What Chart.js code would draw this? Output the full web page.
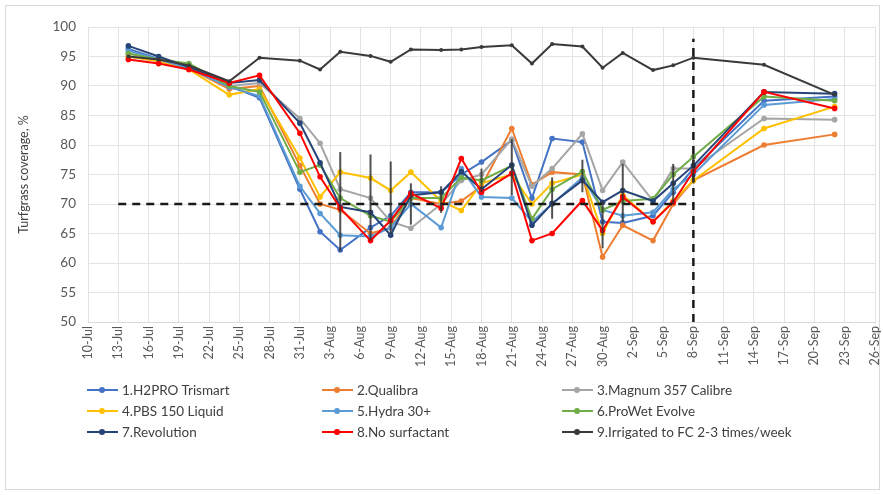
<!DOCTYPE html>
<html>
<head>
<meta charset="utf-8">
<script src="https://cdn.jsdelivr.net/npm/chart.js@4"></script>
<style>
  body { margin: 0; background: #fff; font-family: Lato, "Liberation Sans", sans-serif; }
  #wrap { position: relative; width: 883px; height: 495px; }
  #frame { position: absolute; left: 5px; top: 5px; width: 873px; height: 483px; border: 1px solid #d9d9d9; }
  #chart { position: absolute; left: 0; top: 0; }
  .item { position: absolute; font-size: 13.5px; color: #404040; line-height: 16px; white-space: nowrap; }
  .item .ln { position: absolute; top: 7px; height: 2px; }
  .item .pt { position: absolute; top: 5px; width: 6px; height: 6px; border-radius: 50%; }
</style>
</head>
<body>
<div id="wrap">
  <div id="frame"></div>
  <canvas id="chart" width="883" height="495"></canvas>
  <div id="legend"></div>
</div>
<script>
const months = ['Jan', 'Feb', 'Mar', 'Apr', 'May', 'Jun', 'Jul', 'Aug', 'Sep', 'Oct', 'Nov', 'Dec'];

const dates = ['14-Jul', '17-Jul', '20-Jul', '24-Jul', '27-Jul', '31-Jul', '2-Aug', '4-Aug', '7-Aug', '9-Aug',
  '11-Aug', '14-Aug', '16-Aug', '18-Aug', '21-Aug', '23-Aug', '25-Aug', '28-Aug', '30-Aug', '1-Sep',
  '4-Sep', '6-Sep', '8-Sep', '15-Sep', '22-Sep'];

const h2pro      = [96.3, 94.6, 93.0, 90.0, 88.0, 72.5, 65.3, 62.2, 66.0, 68.0, 72.0, 72.0, 75.0, 77.1, 80.8, 71.0, 81.1, 80.5, 67.0, 66.8, 68.0, 72.0, 76.0, 87.5, 88.2];
const qualibra   = [95.0, 94.3, 93.0, 89.5, 90.0, 76.5, 70.0, 69.0, 65.0, 66.0, 71.0, 70.0, 70.5, 73.0, 82.8, 73.3, 75.4, 75.0, 61.0, 66.4, 63.8, 70.0, 74.0, 80.0, 81.8];
const magnum     = [95.5, 94.5, 93.2, 90.0, 90.5, 84.5, 80.3, 72.5, 71.0, 67.0, 65.9, 70.0, 74.0, 75.0, 81.0, 73.0, 76.0, 81.9, 72.3, 77.1, 70.5, 76.0, 76.0, 84.5, 84.3];
const pbs        = [95.0, 94.2, 92.8, 88.5, 89.5, 77.8, 71.2, 75.4, 74.4, 72.3, 75.4, 70.5, 68.9, 73.5, 75.0, 70.0, 73.5, 75.0, 65.0, 71.5, 67.0, 70.5, 74.0, 82.8, 86.5];
const hydra      = [96.0, 94.5, 93.0, 89.8, 88.3, 73.0, 68.4, 64.7, 64.5, 66.0, 70.0, 66.0, 76.0, 71.2, 71.0, 67.0, 70.0, 74.5, 69.0, 68.0, 68.6, 72.5, 75.0, 86.8, 87.8];
const prowet     = [95.5, 94.5, 93.8, 90.0, 89.0, 75.4, 76.6, 71.0, 68.0, 67.0, 71.0, 71.0, 74.5, 74.0, 76.5, 67.5, 72.5, 75.5, 69.0, 70.5, 70.9, 75.0, 78.0, 88.2, 87.5];
const revolution = [96.8, 95.0, 93.2, 90.5, 91.0, 83.7, 77.0, 69.5, 68.6, 64.7, 71.5, 72.0, 75.5, 72.5, 76.6, 66.4, 70.1, 74.0, 70.3, 72.3, 70.5, 73.5, 76.5, 89.0, 88.7];
const noSurf     = [94.5, 93.8, 92.8, 90.5, 91.8, 82.0, 74.6, 69.3, 63.8, 67.2, 71.8, 69.3, 77.7, 72.0, 75.2, 63.8, 65.0, 70.6, 65.5, 71.2, 67.0, 70.3, 75.5, 89.0, 86.2];
const irrigated  = [95.0, 94.5, 93.5, 90.8, 94.8, 94.3, 92.8, 95.8, 95.1, 94.1, 96.2, 96.1, 96.2, 96.6, 96.9, 93.8, 97.1, 96.7, 93.1, 95.6, 92.7, 93.5, 94.8, 93.6, 88.5];

// vertical bars drawn on some dates
const errDates = ['4-Aug', '7-Aug', '9-Aug', '11-Aug', '14-Aug', '18-Aug', '21-Aug', '25-Aug', '28-Aug', '30-Aug', '1-Sep', '6-Sep', '8-Sep'];
const errLow   = [62.0, 63.8, 65.0, 66.5, 68.5, 72.0, 71.5, 67.5, 72.0, 62.5, 67.0, 70.0, 73.5];
const errHigh  = [78.8, 78.4, 77.2, 73.5, 73.0, 76.0, 81.0, 74.5, 77.5, 70.5, 76.8, 76.8, 78.5];

// reference lines
const threshold = 70;
const thresholdFrom = '13-Jul';
const thresholdTo = '8-Sep';
const dividerDate = '8-Sep';
const dividerRange = [50, 98];

const axisStart = '10-Jul';
const axisEnd = '26-Sep';
const tickStep = 3;

const names = ['1.H2PRO Trismart', '2.Qualibra', '3.Magnum 357 Calibre', '4.PBS 150 Liquid', '5.Hydra 30+',
  '6.ProWet Evolve', '7.Revolution', '8.No surfactant', '9.Irrigated to FC 2-3 times/week'];
const series = [h2pro, qualibra, magnum, pbs, hydra, prowet, revolution, noSurf, irrigated];
const colors = ['#4472C4', '#ED7D31', '#A5A5A5', '#FFC000', '#5B9BD5', '#70AD47', '#264478', '#FF0000', '#3a3a3a'];

const t0 = toUTC(axisStart);
function toUTC(label) {
  const [d, m] = label.split('-');
  return Date.UTC(2019, months.indexOf(m), +d);
}
function dayOf(label) {
  return (toUTC(label) - t0) / 86400000;
}
function labelOf(day) {
  const dt = new Date(t0 + day * 86400000);
  return dt.getUTCDate() + '-' + months[dt.getUTCMonth()];
}

const days = dates.map(dayOf);

const datasets = series.map((vals, i) => ({
  label: names[i],
  data: vals.map((v, j) => ({ x: days[j], y: v })),
  borderColor: colors[i],
  backgroundColor: colors[i],
  borderWidth: 2,
  pointRadius: i === 8 ? 2 : 2.8,
  pointBorderWidth: 0,
  order: 10 - i,
  tension: 0,
}));

datasets.push({
  label: 'threshold',
  data: [{ x: dayOf(thresholdFrom), y: threshold }, { x: dayOf(thresholdTo), y: threshold }],
  borderColor: '#1a1a1a', borderWidth: 2.5, borderDash: [8, 6], pointRadius: 0, order: -1,
});
datasets.push({
  label: 'divider',
  data: [{ x: dayOf(dividerDate), y: dividerRange[0] }, { x: dayOf(dividerDate), y: dividerRange[1] }],
  borderColor: '#1a1a1a', borderWidth: 2.5, borderDash: [8, 6], pointRadius: 0, order: -1,
});

const errorBars = {
  id: 'errorBars',
  afterDatasetsDraw(chart) {
    const { ctx, scales: { x, y } } = chart;
    ctx.save();
    ctx.strokeStyle = 'rgba(50,50,50,0.85)';
    ctx.lineWidth = 2;
    errDates.forEach((d, i) => {
      const px = x.getPixelForValue(dayOf(d));
      ctx.beginPath();
      ctx.moveTo(px, y.getPixelForValue(errLow[i]));
      ctx.lineTo(px, y.getPixelForValue(errHigh[i]));
      ctx.stroke();
    });
    ctx.restore();
  }
};

Chart.defaults.font.family = 'Lato, "Liberation Sans", sans-serif';
Chart.defaults.color = '#595959';

const chart = new Chart(document.getElementById('chart'), {
  type: 'line',
  data: { datasets },
  options: {
    responsive: false,
    animation: false,
    layout: { padding: { left: 14, right: 8, top: 27, bottom: 121 } },
    plugins: { legend: { display: false }, tooltip: { enabled: false } },
    scales: {
      x: {
        type: 'linear',
        min: 0,
        max: dayOf(axisEnd),
        afterFit: s => { s.height = 52; s.paddingLeft = 0; s.paddingRight = 0; },
        ticks: {
          stepSize: tickStep,
          autoSkip: false,
          minRotation: 90,
          maxRotation: 90,
          font: { size: 12.5 },
          color: '#595959',
          padding: 4,
          callback: v => labelOf(v),
        },
        grid: { color: '#e3e3e3', drawTicks: false },
        border: { color: '#d9d9d9' },
      },
      y: {
        min: 50,
        max: 100,
        afterFit: s => { s.width = 74; },
        ticks: { stepSize: 5, font: { size: 13.5 }, color: '#595959', padding: 12 },
        grid: { color: '#e3e3e3', drawTicks: false },
        border: { display: false },
        title: { display: true, text: 'Turfgrass coverage, %', font: { size: 12.5 }, color: '#404040', padding: { top: 2, bottom: 2 } },
      }
    }
  },
  plugins: [errorBars]
});

// legend in three columns
const colX = [87, 322, 562];
const rowY = [382, 403, 424];
const legend = document.getElementById('legend');
names.forEach((name, i) => {
  const item = document.createElement('div');
  item.className = 'item';
  item.style.left = colX[i % 3] + 'px';
  item.style.top = rowY[Math.floor(i / 3)] + 'px';
  item.style.paddingLeft = '35px';
  item.innerHTML = '<span class="ln" style="left:0;width:31px;background:' + colors[i] + '"></span>' +
    '<span class="pt" style="left:12px;background:' + colors[i] + '"></span>' + name;
  legend.appendChild(item);
});
</script>
</body>
</html>
